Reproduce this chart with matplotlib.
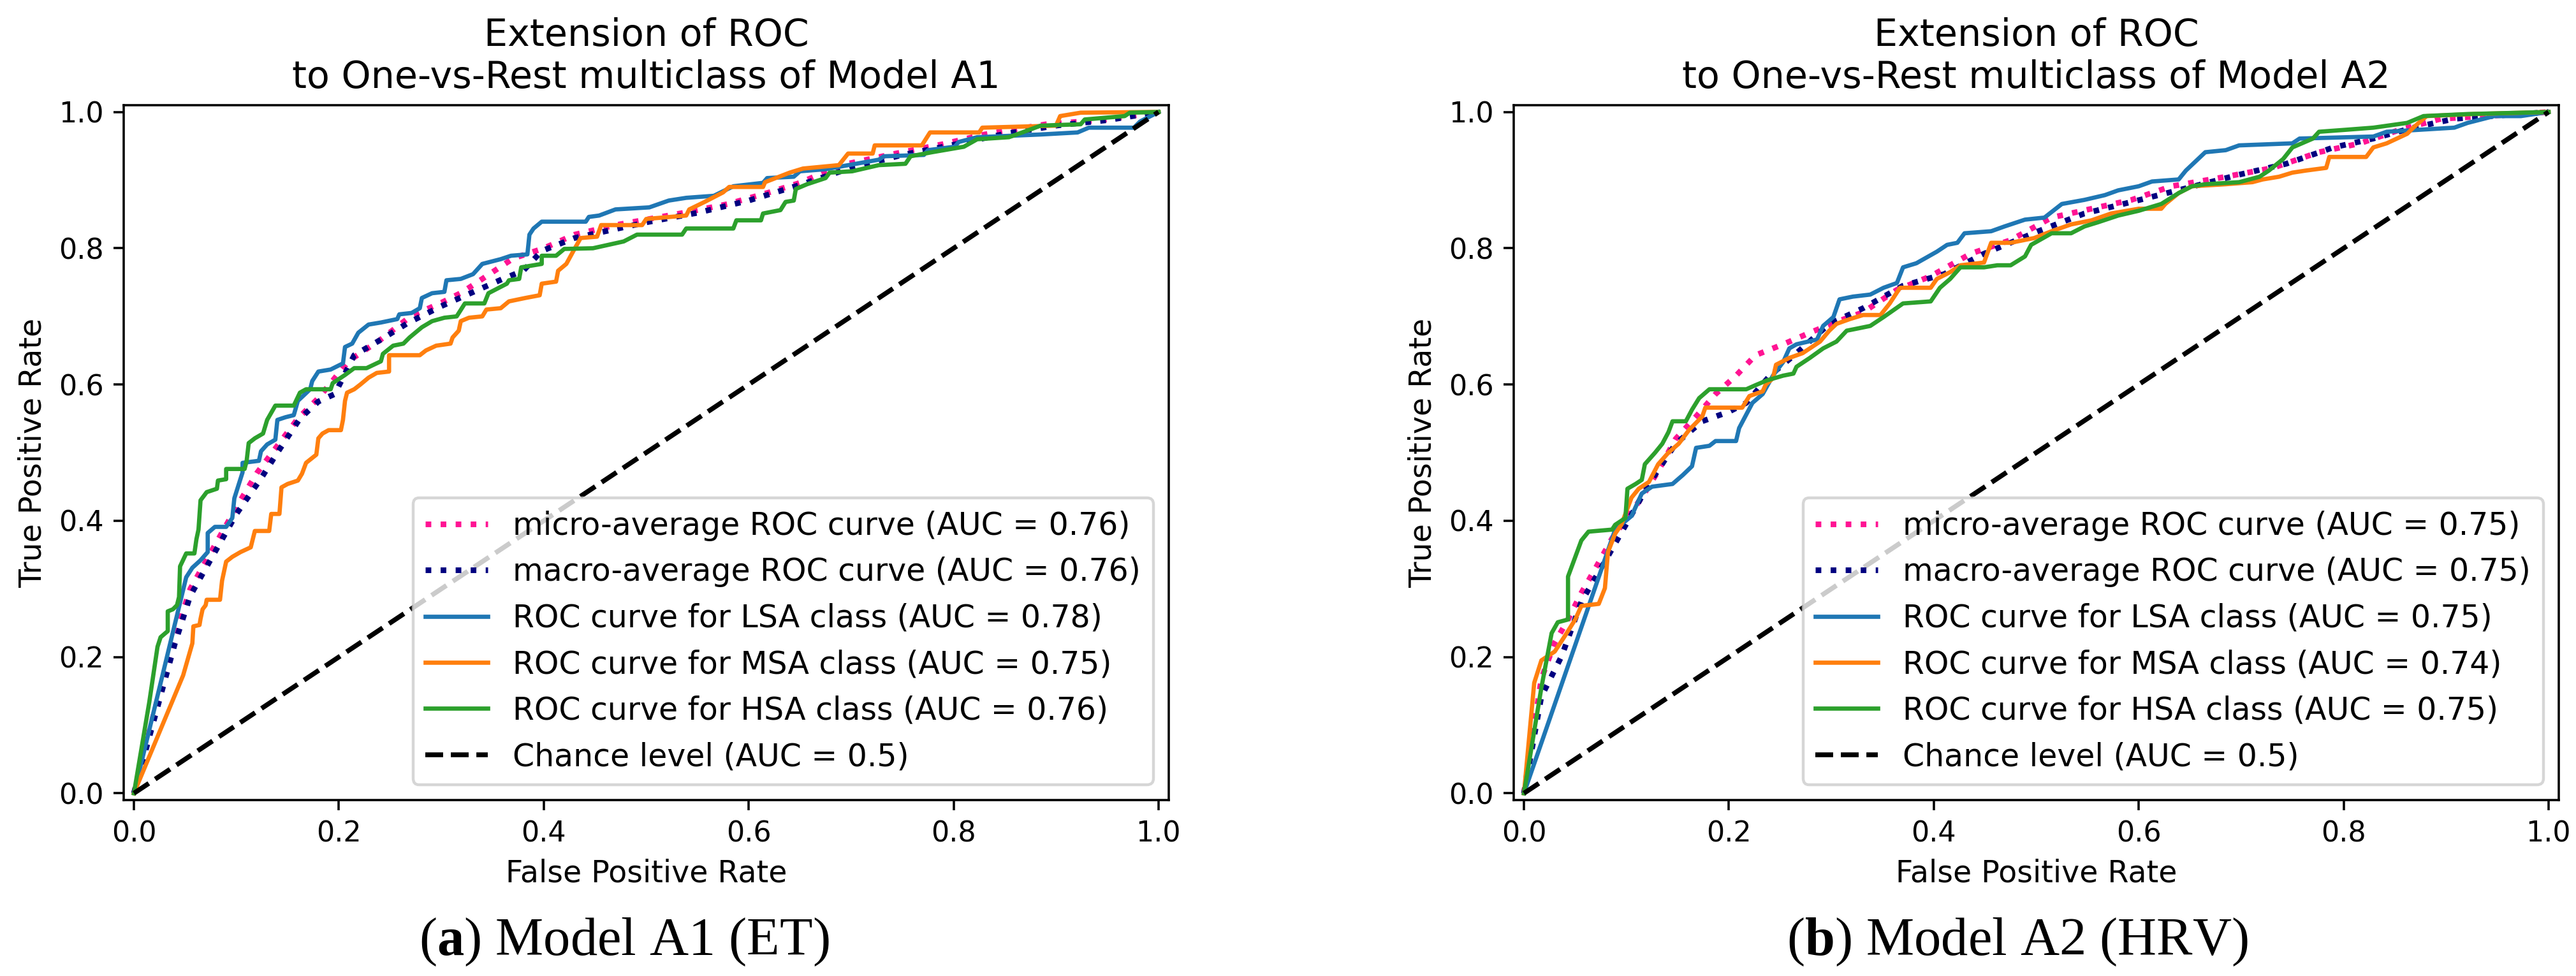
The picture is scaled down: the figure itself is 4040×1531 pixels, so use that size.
"""One-vs-Rest ROC curves of models A1 (ET) and A2 (HRV), side by side.

Curve vertices are read off the published figure (fpr, tpr pairs).
Output -> out.png (4040 x 1531 px)
"""
import matplotlib
matplotlib.use("Agg")
import matplotlib.pyplot as plt
import numpy as np

plt.rcParams["mathtext.fontset"] = "custom"
plt.rcParams["mathtext.rm"] = "Liberation Serif"
plt.rcParams["mathtext.bf"] = "Liberation Serif:bold"

DPI = 320
W, H = 4040, 1531

CLASSES = ["LSA", "MSA", "HSA"]
CLASS_COLORS = ["tab:blue", "tab:orange", "tab:green"]

# ---- Model A1 (ET) ----
A1_AUC_MICRO, A1_AUC_MACRO = 0.76, 0.76
A1_AUC_CLASS = [0.78, 0.75, 0.76]

A1_MICRO = [(0, 0), (0.02, 0.12), (0.04, 0.23), (0.055, 0.30), (0.07, 0.34), (0.085, 0.38),
            (0.10, 0.42), (0.12, 0.47), (0.14, 0.51), (0.16, 0.55), (0.18, 0.58), (0.21, 0.635),
            (0.24, 0.665), (0.27, 0.70), (0.30, 0.72), (0.32, 0.735), (0.35, 0.765), (0.37, 0.785),
            (0.40, 0.80), (0.43, 0.82), (0.47, 0.834), (0.54, 0.853), (0.58, 0.865), (0.62, 0.882),
            (0.65, 0.896), (0.69, 0.922), (0.74, 0.938), (0.79, 0.953), (0.83, 0.967), (0.89, 0.982),
            (0.95, 0.989), (1, 1)]
A1_MACRO = [(0, 0), (0.02, 0.11), (0.04, 0.22), (0.055, 0.29), (0.07, 0.33), (0.085, 0.37),
            (0.10, 0.41), (0.124, 0.462), (0.14, 0.50), (0.162, 0.55), (0.18, 0.575), (0.196, 0.586),
            (0.215, 0.643), (0.24, 0.665), (0.267, 0.69), (0.30, 0.715), (0.33, 0.735), (0.36, 0.755),
            (0.38, 0.767), (0.398, 0.796), (0.43, 0.815), (0.50, 0.838), (0.55, 0.852), (0.60, 0.87),
            (0.65, 0.893), (0.70, 0.918), (0.75, 0.937), (0.80, 0.952), (0.85, 0.968), (0.90, 0.98),
            (0.95, 0.988), (1, 1)]
A1_LSA = [(0, 0), (0.051, 0.317), (0.057, 0.331), (0.065, 0.342), (0.072, 0.354), (0.072, 0.382),
          (0.079, 0.391), (0.090, 0.391), (0.096, 0.404), (0.098, 0.433), (0.106, 0.471),
          (0.106, 0.485), (0.122, 0.488), (0.124, 0.502), (0.130, 0.512), (0.138, 0.519),
          (0.140, 0.548), (0.148, 0.552), (0.156, 0.555), (0.160, 0.576), (0.172, 0.593),
          (0.174, 0.605), (0.180, 0.619), (0.192, 0.622), (0.204, 0.631), (0.206, 0.655),
          (0.213, 0.660), (0.219, 0.676), (0.229, 0.688), (0.241, 0.691), (0.257, 0.696),
          (0.259, 0.703), (0.271, 0.705), (0.279, 0.712), (0.281, 0.727), (0.291, 0.734),
          (0.303, 0.736), (0.305, 0.753), (0.319, 0.755), (0.331, 0.762), (0.340, 0.777),
          (0.358, 0.784), (0.368, 0.789), (0.384, 0.791), (0.386, 0.820), (0.390, 0.829),
          (0.398, 0.839), (0.441, 0.839), (0.444, 0.846), (0.454, 0.848), (0.470, 0.857),
          (0.503, 0.860), (0.522, 0.870), (0.539, 0.874), (0.566, 0.877), (0.585, 0.891),
          (0.614, 0.896), (0.618, 0.903), (0.644, 0.905), (0.650, 0.913), (0.675, 0.916),
          (0.727, 0.930), (0.732, 0.935), (0.771, 0.937), (0.775, 0.944), (0.801, 0.949),
          (0.805, 0.956), (0.823, 0.963), (0.885, 0.967), (0.921, 0.970), (0.932, 0.977),
          (0.976, 0.977), (0.982, 0.986), (1, 1)]
A1_MSA = [(0, 0), (0.048, 0.173), (0.057, 0.220), (0.058, 0.245), (0.064, 0.247), (0.065, 0.256),
          (0.067, 0.270), (0.070, 0.276), (0.071, 0.284), (0.084, 0.284), (0.086, 0.312),
          (0.090, 0.340), (0.096, 0.347), (0.104, 0.354), (0.114, 0.361), (0.118, 0.385),
          (0.132, 0.385), (0.134, 0.410), (0.142, 0.410), (0.144, 0.449), (0.150, 0.454),
          (0.160, 0.459), (0.164, 0.469), (0.168, 0.485), (0.178, 0.497), (0.180, 0.521),
          (0.184, 0.528), (0.190, 0.533), (0.202, 0.533), (0.204, 0.548), (0.206, 0.576),
          (0.208, 0.588), (0.215, 0.593), (0.221, 0.600), (0.229, 0.610), (0.237, 0.617),
          (0.249, 0.619), (0.249, 0.643), (0.279, 0.643), (0.285, 0.650), (0.295, 0.657),
          (0.309, 0.660), (0.311, 0.669), (0.317, 0.679), (0.319, 0.693), (0.327, 0.698),
          (0.340, 0.700), (0.344, 0.710), (0.358, 0.712), (0.366, 0.722), (0.382, 0.727),
          (0.396, 0.731), (0.398, 0.748), (0.412, 0.751), (0.414, 0.767), (0.422, 0.777),
          (0.430, 0.799), (0.436, 0.815), (0.452, 0.817), (0.456, 0.834), (0.496, 0.834),
          (0.500, 0.843), (0.539, 0.848), (0.542, 0.857), (0.557, 0.868), (0.575, 0.882),
          (0.581, 0.890), (0.614, 0.890), (0.616, 0.897), (0.640, 0.911), (0.653, 0.917),
          (0.688, 0.922), (0.697, 0.939), (0.721, 0.939), (0.723, 0.951), (0.769, 0.951),
          (0.777, 0.970), (0.825, 0.970), (0.828, 0.977), (0.900, 0.980), (0.904, 0.994),
          (0.924, 0.999), (0.993, 1.0), (1, 1)]
A1_HSA = [(0, 0), (0.015, 0.134), (0.023, 0.215), (0.026, 0.229), (0.033, 0.238), (0.033, 0.267),
          (0.038, 0.270), (0.042, 0.276), (0.044, 0.288), (0.045, 0.333), (0.051, 0.352),
          (0.059, 0.352), (0.061, 0.373), (0.063, 0.387), (0.065, 0.430), (0.071, 0.442),
          (0.081, 0.447), (0.082, 0.459), (0.090, 0.461), (0.090, 0.476), (0.108, 0.476),
          (0.110, 0.488), (0.112, 0.514), (0.118, 0.521), (0.126, 0.528), (0.130, 0.548),
          (0.138, 0.569), (0.156, 0.569), (0.162, 0.588), (0.168, 0.593), (0.192, 0.593),
          (0.194, 0.602), (0.206, 0.614), (0.215, 0.624), (0.227, 0.624), (0.241, 0.634),
          (0.243, 0.645), (0.253, 0.657), (0.263, 0.660), (0.269, 0.669), (0.281, 0.684),
          (0.291, 0.693), (0.303, 0.698), (0.315, 0.700), (0.323, 0.719), (0.342, 0.719),
          (0.346, 0.734), (0.364, 0.748), (0.366, 0.753), (0.376, 0.755), (0.378, 0.772),
          (0.398, 0.777), (0.398, 0.789), (0.412, 0.789), (0.420, 0.799), (0.448, 0.800),
          (0.478, 0.810), (0.491, 0.820), (0.535, 0.820), (0.539, 0.829), (0.585, 0.829),
          (0.588, 0.841), (0.612, 0.841), (0.614, 0.851), (0.631, 0.856), (0.636, 0.868),
          (0.644, 0.870), (0.646, 0.887), (0.657, 0.894), (0.675, 0.903), (0.679, 0.911),
          (0.701, 0.913), (0.727, 0.922), (0.753, 0.924), (0.758, 0.935), (0.779, 0.941),
          (0.810, 0.949), (0.823, 0.960), (0.854, 0.963), (0.867, 0.970), (0.885, 0.980),
          (0.924, 0.982), (0.928, 0.989), (0.967, 0.994), (0.972, 0.999), (1, 1)]

# ---- Model A2 (HRV) ----
A2_AUC_MICRO, A2_AUC_MACRO = 0.75, 0.75
A2_AUC_CLASS = [0.75, 0.74, 0.75]

A2_MICRO = [(0, 0), (0.017, 0.168), (0.030, 0.221), (0.043, 0.255), (0.056, 0.294), (0.069, 0.328),
            (0.086, 0.374), (0.102, 0.407), (0.115, 0.434), (0.131, 0.473), (0.148, 0.520),
            (0.168, 0.553), (0.187, 0.586), (0.207, 0.613), (0.226, 0.643), (0.253, 0.659),
            (0.279, 0.676), (0.305, 0.692), (0.331, 0.706), (0.364, 0.739), (0.397, 0.759),
            (0.436, 0.792), (0.475, 0.812), (0.515, 0.845), (0.554, 0.858), (0.593, 0.871),
            (0.632, 0.891), (0.685, 0.905), (0.731, 0.918), (0.776, 0.941), (0.816, 0.954),
            (0.855, 0.974), (0.895, 0.990), (0.940, 0.994), (1, 1)]
A2_MACRO = [(0, 0), (0.017, 0.142), (0.037, 0.202), (0.056, 0.281), (0.082, 0.348), (0.102, 0.401),
            (0.122, 0.454), (0.148, 0.513), (0.174, 0.546), (0.200, 0.560), (0.217, 0.573),
            (0.240, 0.613), (0.266, 0.646), (0.298, 0.689), (0.331, 0.712), (0.370, 0.745),
            (0.410, 0.762), (0.449, 0.792), (0.502, 0.825), (0.547, 0.851), (0.593, 0.868),
            (0.646, 0.888), (0.698, 0.908), (0.744, 0.924), (0.790, 0.948), (0.829, 0.961),
            (0.868, 0.977), (0.908, 0.990), (1, 1)]
A2_LSA = [(0, 0), (0.089, 0.387), (0.105, 0.407), (0.115, 0.440), (0.125, 0.450), (0.145, 0.454),
          (0.155, 0.467), (0.164, 0.480), (0.168, 0.507), (0.181, 0.510), (0.187, 0.517),
          (0.207, 0.517), (0.210, 0.536), (0.217, 0.556), (0.223, 0.573), (0.233, 0.586),
          (0.243, 0.613), (0.253, 0.633), (0.259, 0.653), (0.266, 0.659), (0.286, 0.666),
          (0.292, 0.686), (0.302, 0.699), (0.308, 0.725), (0.321, 0.729), (0.338, 0.732),
          (0.351, 0.742), (0.364, 0.749), (0.370, 0.772), (0.383, 0.778), (0.403, 0.795),
          (0.413, 0.805), (0.423, 0.808), (0.430, 0.822), (0.456, 0.825), (0.469, 0.832),
          (0.489, 0.842), (0.508, 0.845), (0.525, 0.865), (0.547, 0.871), (0.567, 0.878),
          (0.580, 0.885), (0.600, 0.891), (0.613, 0.898), (0.639, 0.901), (0.646, 0.914),
          (0.665, 0.941), (0.685, 0.944), (0.698, 0.951), (0.750, 0.954), (0.757, 0.961),
          (0.829, 0.964), (0.842, 0.971), (0.875, 0.974), (0.908, 0.977), (0.921, 0.984),
          (0.947, 0.994), (0.973, 0.994), (1, 1)]
A2_MSA = [(0, 0), (0.010, 0.162), (0.017, 0.195), (0.030, 0.208), (0.040, 0.231), (0.050, 0.255),
          (0.056, 0.275), (0.073, 0.278), (0.079, 0.301), (0.082, 0.354), (0.089, 0.381),
          (0.095, 0.394), (0.105, 0.434), (0.112, 0.447), (0.122, 0.457), (0.131, 0.483),
          (0.141, 0.500), (0.151, 0.513), (0.161, 0.533), (0.174, 0.553), (0.177, 0.566),
          (0.213, 0.566), (0.220, 0.583), (0.233, 0.590), (0.236, 0.600), (0.243, 0.609),
          (0.246, 0.629), (0.259, 0.639), (0.272, 0.646), (0.279, 0.653), (0.289, 0.663),
          (0.298, 0.679), (0.305, 0.689), (0.318, 0.696), (0.331, 0.702), (0.348, 0.702),
          (0.357, 0.719), (0.367, 0.742), (0.397, 0.742), (0.403, 0.755), (0.416, 0.765),
          (0.426, 0.775), (0.449, 0.779), (0.456, 0.808), (0.475, 0.808), (0.498, 0.815),
          (0.515, 0.825), (0.534, 0.835), (0.554, 0.841), (0.573, 0.851), (0.600, 0.858),
          (0.622, 0.858), (0.626, 0.865), (0.639, 0.881), (0.652, 0.891), (0.685, 0.894),
          (0.711, 0.897), (0.721, 0.901), (0.737, 0.905), (0.750, 0.911), (0.763, 0.914),
          (0.783, 0.918), (0.786, 0.934), (0.822, 0.934), (0.829, 0.948), (0.842, 0.954),
          (0.862, 0.968), (0.868, 0.977), (0.881, 0.994), (0.927, 0.997), (1, 1)]
A2_HSA = [(0, 0), (0.017, 0.155), (0.027, 0.235), (0.033, 0.251), (0.043, 0.255), (0.043, 0.318),
          (0.056, 0.371), (0.063, 0.384), (0.086, 0.387), (0.089, 0.394), (0.099, 0.404),
          (0.101, 0.447), (0.109, 0.454), (0.115, 0.460), (0.118, 0.483), (0.128, 0.500),
          (0.135, 0.513), (0.141, 0.530), (0.145, 0.546), (0.158, 0.546), (0.164, 0.563),
          (0.171, 0.580), (0.181, 0.593), (0.217, 0.593), (0.226, 0.599), (0.237, 0.606),
          (0.253, 0.613), (0.263, 0.616), (0.266, 0.626), (0.279, 0.639), (0.292, 0.653),
          (0.305, 0.663), (0.315, 0.679), (0.325, 0.682), (0.338, 0.686), (0.351, 0.699),
          (0.370, 0.719), (0.397, 0.722), (0.406, 0.742), (0.416, 0.755), (0.426, 0.772),
          (0.449, 0.772), (0.462, 0.775), (0.475, 0.775), (0.489, 0.788), (0.495, 0.805),
          (0.515, 0.822), (0.534, 0.822), (0.547, 0.832), (0.560, 0.838), (0.580, 0.848),
          (0.600, 0.855), (0.622, 0.865), (0.639, 0.881), (0.652, 0.891), (0.665, 0.894),
          (0.698, 0.897), (0.718, 0.905), (0.727, 0.914), (0.741, 0.931), (0.750, 0.948),
          (0.770, 0.961), (0.776, 0.971), (0.803, 0.974), (0.829, 0.977), (0.862, 0.984),
          (0.878, 0.994), (0.921, 0.997), (1, 1)]

PANELS = [
    ("A1", "(ET)", "a", A1_MICRO, A1_MACRO, [A1_LSA, A1_MSA, A1_HSA],
     A1_AUC_MICRO, A1_AUC_MACRO, A1_AUC_CLASS),
    ("A2", "(HRV)", "b", A2_MICRO, A2_MACRO, [A2_LSA, A2_MSA, A2_HSA],
     A2_AUC_MICRO, A2_AUC_MACRO, A2_AUC_CLASS),
]

# axes boxes in pixels (left, top) of the reference; both panels the same size
AX_LEFT_PX = [194, 2374]
AX_TOP_PX, AX_W_PX, AX_H_PX = 165, 1639, 1090
CAPTION_X_PX = [979, 3164]
CAPTION_Y_PX = 1478


def xy(pts):
    a = np.asarray(pts, dtype=float)
    return a[:, 0], a[:, 1]


def draw_panel(ax, model, micro, macro, classes, auc_micro, auc_macro, auc_class):
    x, y = xy(micro)
    ax.plot(x, y, color="deeppink", linestyle=":", linewidth=2.0,
            label=f"micro-average ROC curve (AUC = {auc_micro:.2f})")
    x, y = xy(macro)
    ax.plot(x, y, color="navy", linestyle=":", linewidth=2.0,
            label=f"macro-average ROC curve (AUC = {auc_macro:.2f})")
    for name, pts, col, auc in zip(CLASSES, classes, CLASS_COLORS, auc_class):
        x, y = xy(pts)
        ax.plot(x, y, color=col, linewidth=1.5,
                label=f"ROC curve for {name} class (AUC = {auc:.2f})")
    ax.plot([0, 1], [0, 1], color="k", linestyle="--", linewidth=1.7,
            label="Chance level (AUC = 0.5)")
    ax.set_xlim(-0.01, 1.01)
    ax.set_ylim(-0.01, 1.01)
    ax.set_xlabel("False Positive Rate", fontsize=10.7)
    ax.set_ylabel("True Positive Rate", fontsize=10.7)
    ax.set_title(f"Extension of ROC\nto One-vs-Rest multiclass of Model {model}", fontsize=13.2)
    ax.legend(loc="lower right", fontsize=11)


def main():
    fig = plt.figure(figsize=(W / DPI, H / DPI), dpi=DPI)
    for i, (model, tag, letter, micro, macro, classes, am, aM, ac) in enumerate(PANELS):
        rect = [AX_LEFT_PX[i] / W, 1 - (AX_TOP_PX + AX_H_PX) / H, AX_W_PX / W, AX_H_PX / H]
        ax = fig.add_axes(rect)
        draw_panel(ax, model, micro, macro, classes, am, aM, ac)
        fig.text(CAPTION_X_PX[i] / W, 1 - CAPTION_Y_PX / H,
                 rf"($\mathbf{{{letter}}}$) Model {model} {tag}",
                 family="Liberation Serif", fontsize=19, ha="center", va="center")
    fig.savefig("out.png", dpi=DPI)
    plt.close(fig)


if __name__ == "__main__":
    main()
